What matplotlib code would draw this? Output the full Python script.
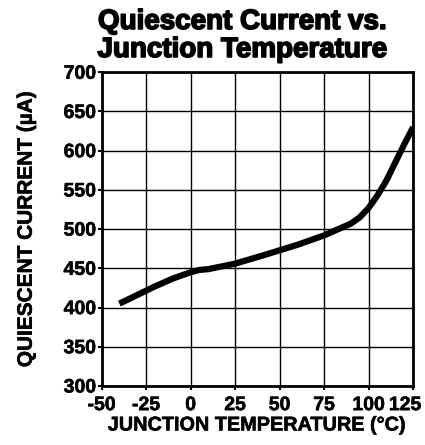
import numpy as np
import matplotlib.pyplot as plt
import matplotlib.transforms as mtransforms
import matplotlib.patheffects as pe

plt.rcParams['font.family'] = ['Liberation Sans', 'DejaVu Sans']
plt.rcParams['font.weight'] = 'bold'
plt.rcParams['axes.unicode_minus'] = False

# Curve
temp = [-40, -30, -20, -10, 0, 5, 10, 25, 40, 50, 60, 75, 85, 90, 95, 100, 105, 110, 115, 120, 125]
current = [405, 416, 427, 437, 445, 448, 449, 456, 466, 473, 480, 492, 502, 507, 515, 527, 543, 562, 585, 608, 630]

xticks = [-50, -25, 0, 25, 50, 75, 100, 125]
yticks = [300, 350, 400, 450, 500, 550, 600, 650, 700]

fig = plt.figure(figsize=(4.25, 4.45), dpi=100)
ax = fig.add_axes([0.239, 0.1326, 0.733, 0.705])

ax.plot(temp, current, color='black', linewidth=4.5, solid_capstyle='butt')

ax.set_xlim(-50, 125)
ax.set_ylim(300, 700)
ax.set_xticks(xticks)
ax.set_yticks(yticks)
ax.tick_params(length=3, width=1.5, labelsize=14)
ax.tick_params(axis='y', pad=1)
ax.tick_params(axis='x', pad=5)
heavy = [pe.withStroke(linewidth=0.4, foreground='black')]
for lab in ax.get_xticklabels() + ax.get_yticklabels():
    lab.set_fontweight('bold')
    lab.set_path_effects(heavy)
# keep the last x label inside the figure
last = ax.get_xticklabels()[-1]
last.set_transform(last.get_transform() + mtransforms.ScaledTranslation(-8 / 100, 0, fig.dpi_scale_trans))
ax.grid(True, color='black', linewidth=1)
for s in ax.spines.values():
    s.set_linewidth(2)

ax.set_xlabel("JUNCTION TEMPERATURE (°C)", fontsize=14.3, fontweight='bold', labelpad=1,
              path_effects=heavy)
ax.set_ylabel("QUIESCENT CURRENT (µA)", fontsize=15, fontweight='bold', labelpad=20,
              path_effects=heavy)
fig.text(0.57, 0.872, "Quiescent Current vs.\nJunction Temperature", fontsize=20,
         fontweight='bold', linespacing=1.1, ha='center', va='baseline',
         path_effects=[pe.withStroke(linewidth=1.2, foreground='black')])

plt.savefig("out.png", dpi=100)
